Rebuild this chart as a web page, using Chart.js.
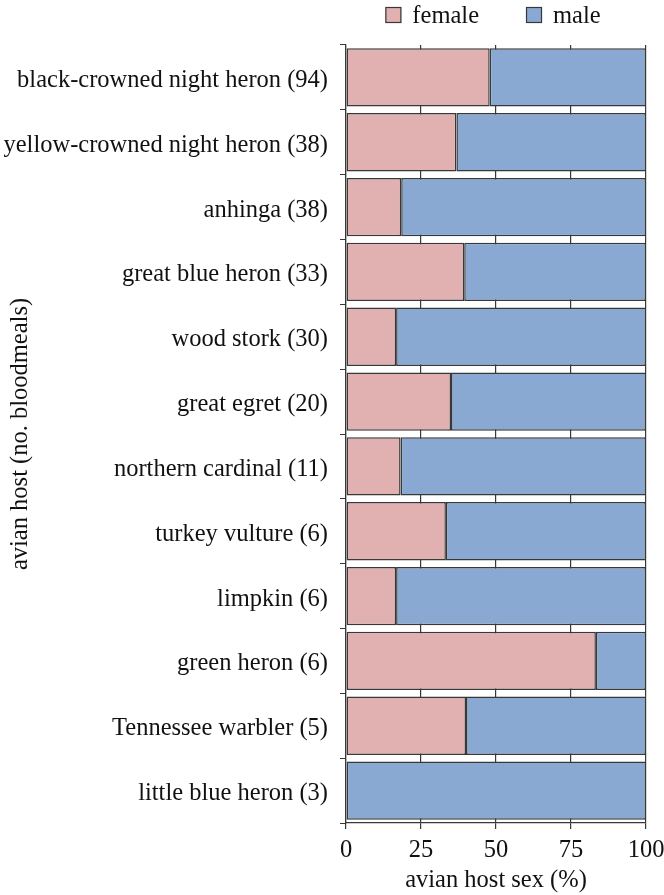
<!DOCTYPE html>
<html>
<head>
<meta charset="utf-8">
<script src="https://cdn.jsdelivr.net/npm/chart.js@4.4.1/dist/chart.umd.min.js"></script>
<style>
  html, body { margin: 0; padding: 0; background: #fff; }
  #wrap { width: 664px; height: 895px; }
</style>
</head>
<body>
<div id="wrap"><canvas id="chart"></canvas></div>
<script>
// Data
const hosts = [
  'black-crowned night heron (94)',
  'yellow-crowned night heron (38)',
  'anhinga (38)',
  'great blue heron (33)',
  'wood stork (30)',
  'great egret (20)',
  'northern cardinal (11)',
  'turkey vulture (6)',
  'limpkin (6)',
  'green heron (6)',
  'Tennessee warbler (5)',
  'little blue heron (3)'
];
const femalePct = [47.9, 36.8, 18.4, 39.4, 16.7, 35.0, 18.2, 33.3, 16.7, 83.3, 40.0, 0];
const malePct   = [52.1, 63.2, 81.6, 60.6, 83.3, 65.0, 81.8, 66.7, 83.3, 16.7, 60.0, 100];
const xTicks = [0, 25, 50, 75, 100];

const serif = '"Liberation Serif", "Times New Roman", serif';
const ink = '#383838';
const fs = 24.5;

// Legend drawn on canvas above the plot, centred over the bars
const topLegend = {
  id: 'topLegend',
  afterDraw(chart) {
    const ctx = chart.ctx;
    ctx.save();
    ctx.font = fs + 'px ' + serif;
    const items = chart.data.datasets.map(ds => ({ label: ds.label, color: ds.backgroundColor }));
    const box = 16, gap = 11, between = 47;
    let total = 0;
    items.forEach((it, i) => {
      it.w = box + gap + ctx.measureText(it.label).width;
      total += it.w + (i ? between : 0);
    });
    let x = 493 - total / 2;
    items.forEach(it => {
      ctx.fillStyle = it.color;
      ctx.fillRect(x, 7, box, box);
      ctx.strokeStyle = ink;
      ctx.lineWidth = 1.2;
      ctx.strokeRect(x + 0.5, 7.5, box - 1, box - 1);
      ctx.fillStyle = '#111';
      ctx.textBaseline = 'alphabetic';
      ctx.fillText(it.label, x + box + gap, 23);
      x += it.w + between;
    });
    ctx.restore();
  }
};

const ctx = document.getElementById('chart').getContext('2d');
new Chart(ctx, {
  type: 'bar',
  data: {
    labels: hosts,
    datasets: [
      { label: 'female', data: femalePct, backgroundColor: '#e1b0b0' },
      { label: 'male', data: malePct, backgroundColor: '#89a9d3' }
    ]
  },
  options: {
    indexAxis: 'y',
    responsive: true,
    maintainAspectRatio: false,
    animation: false,
    layout: { padding: { top: 45, right: 18, left: 0, bottom: 0 } },
    datasets: {
      bar: {
        barPercentage: 0.9,
        categoryPercentage: 1,
        borderColor: ink,
        borderWidth: 1.5,
        borderSkipped: false
      }
    },
    plugins: {
      legend: { display: false },
      tooltip: { enabled: false }
    },
    scales: {
      x: {
        stacked: true,
        min: 0,
        max: 100,
        afterBuildTicks: s => { s.ticks = xTicks.map(v => ({ value: v })); },
        afterFit: s => { s.height = 72; s.paddingRight = 0; s.paddingLeft = 0; },
        grid: { color: ink, lineWidth: 1.2, tickLength: 6, drawOnChartArea: true },
        border: { color: ink, width: 1.2 },
        ticks: { color: '#111', font: { family: serif, size: fs }, padding: 7, maxRotation: 0 },
        title: { display: true, text: 'avian host sex (%)', color: '#111', font: { family: serif, size: fs }, padding: { top: 0, bottom: 0 } }
      },
      y: {
        stacked: true,
        afterFit: s => { s.width = 346; },
        grid: { offset: true, drawOnChartArea: false, color: ink, tickLength: 6 },
        border: { color: ink, width: 1.2 },
        ticks: { color: '#111', font: { family: serif, size: fs }, padding: 12, labelOffset: 3, autoSkip: false },
        title: { display: true, text: 'avian host (no. bloodmeals)', color: '#111', font: { family: serif, size: fs }, padding: { top: 6, bottom: 0 } }
      }
    }
  },
  plugins: [topLegend]
});
</script>
</body>
</html>
